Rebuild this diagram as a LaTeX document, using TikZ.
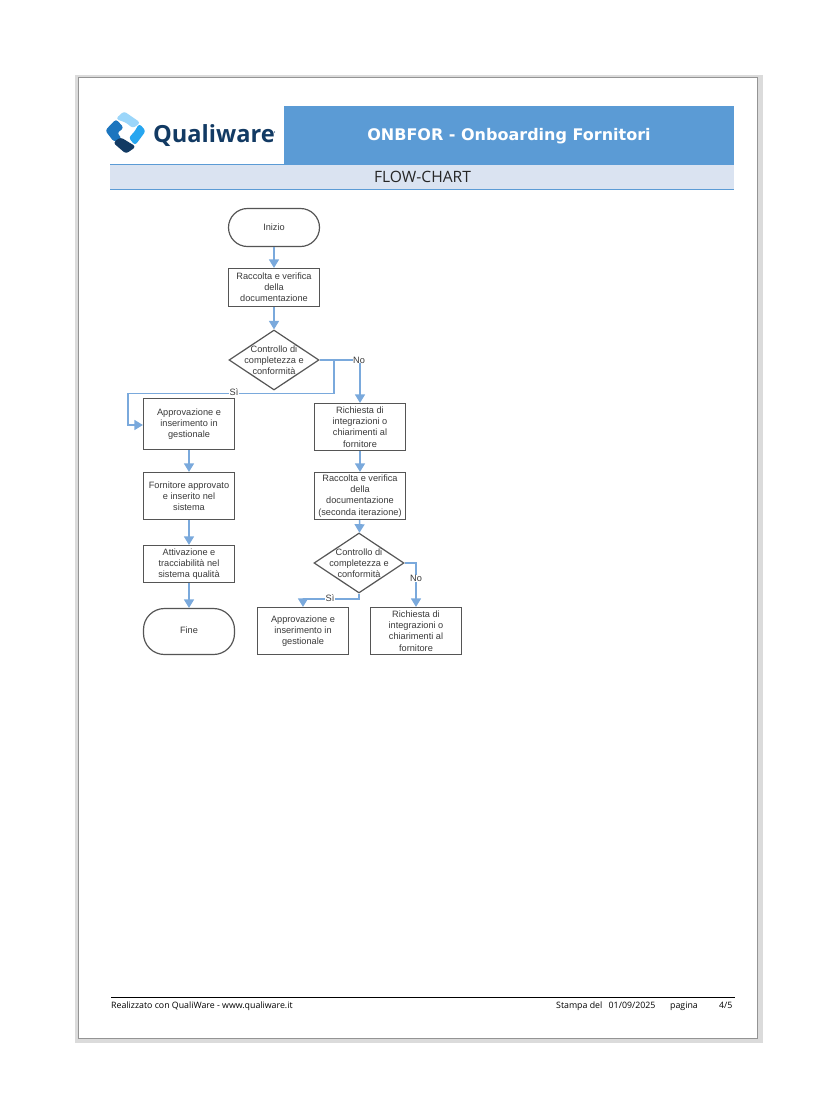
\documentclass[tikz,border=0pt]{standalone}
\usepackage{fontspec}
\setmainfont{Liberation Sans}
\newfontfamily\titlefont{DejaVu Sans}
\newfontfamily\logofont{Open Sans}
\newfontfamily\footfont{Open Sans}
\usetikzlibrary{shapes.geometric,arrows.meta,positioning}
\definecolor{hdrblue}{HTML}{5B9BD5}
\definecolor{band}{HTML}{DAE3F1}
\definecolor{conn}{HTML}{7AA9DC}
\definecolor{edgec}{HTML}{555555}
\definecolor{txtc}{HTML}{3A3A3A}
\definecolor{navy}{HTML}{123A63}
\definecolor{petalA}{HTML}{9BD6FA}
\definecolor{petalB}{HTML}{1C75BE}
\definecolor{petalC}{HTML}{26A6F0}
\tikzset{
 x=1bp,y=-1bp,
 base/.style={draw=edgec,line width=1.2bp,fill=white,align=center,text=txtc,inner sep=0pt,
   font=\fontsize{9.2bp}{11.2bp}\selectfont},
 procbox/.style={base,rectangle,minimum width=91bp},
 termbox/.style={base,rectangle,rounded corners=19bp,minimum width=91bp},
 decbox/.style={base,diamond,minimum width=90bp,minimum height=60bp,aspect=1.5,inner sep=-3.5bp},
 link/.style={draw=conn,line width=1.4bp,-{Triangle[length=8.5bp,width=10bp,fill=conn]}},
 linklabel/.style={text=txtc,fill=white,inner xsep=.5bp,inner ysep=0pt,font=\fontsize{9.2bp}{10bp}\selectfont},
 pagefoot/.style={inner sep=0pt,anchor=base west,text=black,font=\footfont\fontsize{8.8bp}{10bp}\selectfont},
 petal/.style={rounded corners=2.4bp,line width=1.2bp,line join=round},
}
\begin{document}
\begin{tikzpicture}
\useasboundingbox (0,0) rectangle (838,1118);
\fill[white] (0,0) rectangle (838,1118);
% page
\fill[black!14] (75,75) rectangle (763,1043);
\draw[fill=white,draw=black!42,line width=.8bp] (78.5,77.5) rectangle (757.5,1038.5);
% header
\fill[hdrblue] (284,106) rectangle (734,164);
\node[font=\titlefont\bfseries\fontsize{16bp}{18bp}\selectfont,text=white,inner sep=0pt] (title) at (509,136) {ONBFOR - Onboarding Fornitori};
\fill[band] (110,165) rectangle (734,189);
\draw[hdrblue,line width=.8bp] (110,164.5) -- (734,164.5) (110,189.5) -- (734,189.5);
\node[font=\footfont\fontsize{15.6bp}{16bp}\selectfont,text=black!85,inner sep=0pt] (band) at (422.5,177) {FLOW-CHART};
% logo
\filldraw[draw=petalA,fill=petalA,petal] (116.7,118.7) -- (124,112) -- (139.5,122.7) -- (133,127.5) -- (126,122) -- cycle;
\filldraw[draw=petalB,fill=petalB,petal] (106,130.5) -- (116,120) -- (123,127.7) -- (116.7,132.7) -- (121,139) -- (114,141) -- cycle;
\filldraw[draw=petalC,fill=petalC,petal] (139.3,124.5) -- (145,131) -- (135,144.5) -- (129.5,137.7) -- (135,132) -- cycle;
\filldraw[draw=navy,fill=navy,petal] (114,142.7) -- (120.7,138) -- (135,146.7) -- (126,153) -- cycle;
\node[font=\logofont\bfseries\fontsize{23.6bp}{26bp}\selectfont,text=navy,inner sep=0pt,anchor=base west] (logo) at (153,142.5) {Qualiware};
\fill[navy] (274.5,132) circle (.6bp);
% flow nodes
\node[termbox,minimum height=38bp,text depth=1.5bp] (start) at (274,227.5) {Inizio};
\node[procbox,minimum height=38bp] (rac1) at (274,287.5) {Raccolta e verifica\\della\\documentazione};
\node[decbox] (dec1) at (274,360) {Controllo di\\completezza e\\conformità};
\node[procbox,minimum height=51bp] (app1) at (189,424) {Approvazione e\\inserimento in\\gestionale};
\node[procbox,minimum height=47bp] (ric1) at (360,427) {Richiesta di\\integrazioni o\\chiarimenti al\\fornitore};
\node[procbox,minimum height=47bp] (forn) at (189,496) {Fornitore approvato\\e inserito nel\\sistema};
\node[procbox,minimum height=37bp] (att) at (189,564) {Attivazione e\\tracciabilità nel\\sistema qualità};
\node[termbox,minimum height=46bp,rounded corners=21bp,text depth=3bp] (fine) at (189,631.5) {Fine};
\node[procbox,minimum height=47bp] (rac2) at (360,496) {Raccolta e verifica\\della\\documentazione\\(seconda iterazione)};
\node[decbox] (dec2) at (359,563) {Controllo di\\completezza e\\conformità};
\node[procbox,minimum height=47bp] (app2) at (303,631) {Approvazione e\\inserimento in\\gestionale};
\node[procbox,minimum height=47bp] (ric2) at (416,631) {Richiesta di\\integrazioni o\\chiarimenti al\\fornitore};
% connectors
\coordinate (b1) at (334,360);
\coordinate (b2) at (334,393.5);
\coordinate (b3) at (128,393.5);
\coordinate (b4) at (128,425);
\coordinate (c1) at (359,599);
\coordinate (c2) at (303,599);
\draw[link] (start) -- (rac1);
\draw[link] (rac1) -- (dec1);
\draw[link] (dec1.east) -| (ric1.north);
\draw[link] (b1) -- (b2) -- (b3) -- (b4) -- (b4 -| app1.west);
\draw[link] (app1) -- (forn);
\draw[link] (forn) -- (att);
\draw[link] (att) -- (fine);
\draw[link] (ric1) -- (rac2);
\draw[link] (rac2) -- (dec2);
\draw[link] (dec2.south) -- (c1) -- (c2) -- (app2.north);
\draw[link] (dec2.east) -| (ric2.north);
% labels
\node[linklabel] (lno1) at (359,360) {No};
\node[linklabel] (lsi1) at (234,392.5) {Sì};
\node[linklabel] (lsi2) at (330,598) {Sì};
\node[linklabel] (lno2) at (416,578.5) {No};
% footer
\draw[black,line width=.9bp] (111,997.5) -- (735,997.5);
\node[pagefoot] (f1) at (111,1008.5) {Realizzato con QualiWare - www.qualiware.it};
\node[pagefoot] (f2) at (556,1008.5) {Stampa del};
\node[pagefoot] (f3) at (608.5,1008.5) {01/09/2025};
\node[pagefoot] (f4) at (670,1008.5) {pagina};
\node[pagefoot] (f5) at (719,1008.5) {4/5};
\end{tikzpicture}
\end{document}
